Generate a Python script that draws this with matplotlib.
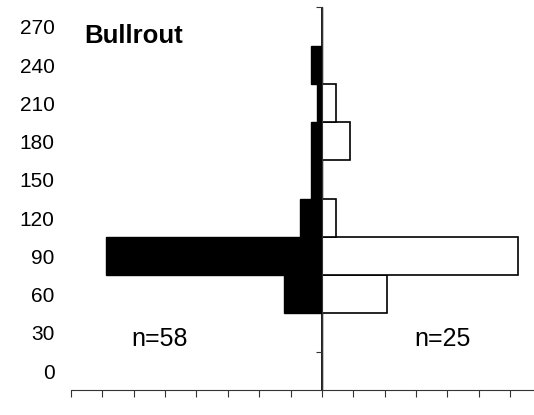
import matplotlib
matplotlib.use("Agg")
import matplotlib.pyplot as plt
from matplotlib.transforms import blended_transform_factory

plt.rcParams['font.family'] = ['Liberation Sans', 'DejaVu Sans']

# Length classes (mm) and percentage frequency in each class
classes = [0, 30, 60, 90, 120, 150, 180, 210, 240, 270]
left_pct = [0, 0, 12.1, 69.0, 6.9, 3.4, 3.4, 1.7, 3.4, 0]      # n=58
right_pct = [0, 0, 20.8, 62.5, 4.4, 0, 9.0, 4.5, 0, 0]        # n=25
title = "Bullrout"
n_left = "n=58"
n_right = "n=25"

fig = plt.figure(figsize=(5.34, 4.15), dpi=100)
ax = fig.add_axes([71 / 534, 25 / 415, 470.5 / 534, 382.7 / 415])

pos = list(range(len(classes)))
ax.barh(pos, [-v for v in left_pct], height=1.0, color='black',
        edgecolor='black', linewidth=1.0)
ax.barh(pos, right_pct, height=1.0, color='white',
        edgecolor='black', linewidth=1.2)

ax.set_xlim(-80, 70)
ax.set_ylim(-0.5, len(classes) - 0.5)

for s in ('top', 'right'):
    ax.spines[s].set_visible(False)
ax.spines['left'].set_position(('data', 0))
for s in ('left', 'bottom'):
    ax.spines[s].set_linewidth(0.8)
    ax.spines[s].set_color('#333333')
    ax.spines[s].set_zorder(3)

ax.set_xticks(range(-80, 71, 10))
ax.set_xticklabels([])
ax.tick_params(axis='x', direction='out', length=5, width=0.8, color='#333333')
ax.set_yticks([0.5, len(classes) - 0.5])
ax.set_yticklabels([])
ax.tick_params(axis='y', direction='out', length=4.5, width=0.8, color='#333333')

# Class labels down the left side
tr = blended_transform_factory(ax.transAxes, ax.transData)
for p, c in zip(pos, classes):
    ax.text(-0.035, p - 0.06, str(c), transform=tr, ha='right', va='center',
            fontsize=15, color='black')

ax.text(-75.8, 8.56, title, fontsize=18.5, fontweight='bold',
        ha='left', va='baseline')
ax.text(-51.7, 0.64, n_left, fontsize=18, ha='center', va='baseline')
ax.text(38.5, 0.64, n_right, fontsize=18, ha='center', va='baseline')

fig.savefig("out.png", dpi=100)
